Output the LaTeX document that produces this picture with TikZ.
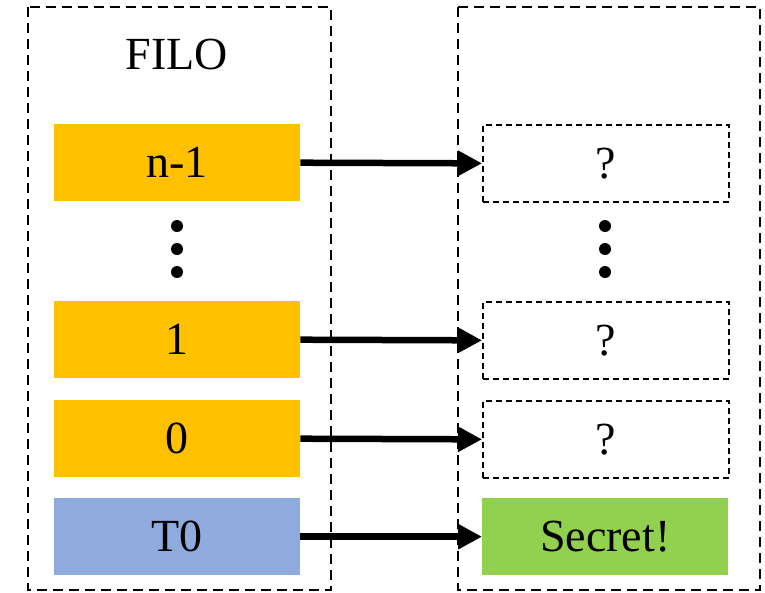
\documentclass[tikz,border=0pt]{standalone}
\usepackage{fontspec}
\setmainfont{Liberation Serif}
\usetikzlibrary{arrows.meta}
\definecolor{cyellow}{HTML}{FFC000}
\definecolor{cblue}{HTML}{8FAADC}
\definecolor{cgreen}{HTML}{92D050}
\tikzset{
  txt/.style={font=\fontsize{46}{55}\selectfont},
  outerbox/.style={draw=black,line width=2pt,dash pattern=on 10pt off 6pt},
  cell/.style={txt,minimum width=246pt,minimum height=77pt,inner sep=0pt,anchor=north west},
  qcell/.style={cell,draw=black,line width=1.7pt,dash pattern=on 6pt off 4pt},
  conn/.style={line width=6.5pt,-{Triangle[length=24pt,width=24pt]}},
  dotc/.style={circle,fill=black,minimum size=12pt,inner sep=0pt}
}
\begin{document}
\begin{tikzpicture}[x=1pt,y=-1pt]
\useasboundingbox (0,0) rectangle (765,592);
\draw[outerbox] (28,7) rectangle (331,590);
\draw[outerbox] (458,7) rectangle (760,590);
\node[txt] (filo) at (177,54) {FILO};
\node[cell,fill=cyellow] (n1) at (54,124) {n-1};
\node[cell,fill=cyellow] (c1) at (54,301) {1};
\node[cell,fill=cyellow] (c0) at (54,400) {0};
\node[cell,fill=cblue] (t0) at (54,498) {T0};
\node[qcell] (q1) at (482,124) {?};
\node[qcell] (q2) at (482,301) {?};
\node[qcell] (q3) at (482,400) {?};
\node[cell,fill=cgreen] (sec) at (482,498) {Secret!};
\node[dotc] (ld1) at (177,226) {};
\node[dotc] (ld2) at (177,249) {};
\node[dotc] (ld3) at (177,272) {};
\node[dotc] (rd1) at (605,226) {};
\node[dotc] (rd2) at (605,249) {};
\node[dotc] (rd3) at (605,272) {};
\draw[conn] (n1.east) -- (q1.west);
\draw[conn] (c1.east) -- (q2.west);
\draw[conn] (c0.east) -- (q3.west);
\draw[conn] (t0.east) -- (sec.west);
\end{tikzpicture}
\end{document}
